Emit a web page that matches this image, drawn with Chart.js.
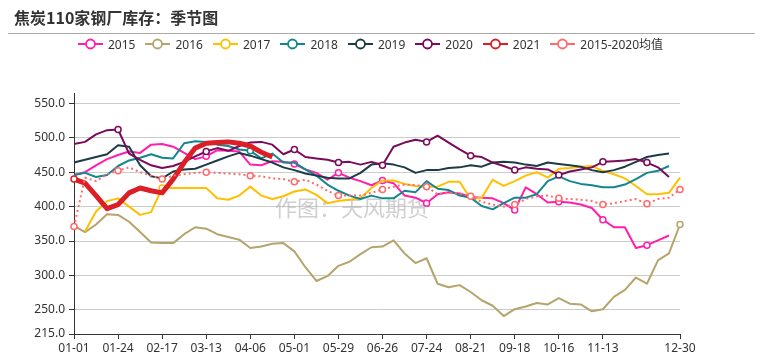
<!DOCTYPE html>
<html>
<head>
<meta charset="utf-8">
<script src="https://cdn.jsdelivr.net/npm/chart.js@4.4.0/dist/chart.umd.min.js"></script>
<style>
body { margin: 0; background: #fff; }
#wrap { position: relative; width: 768px; height: 362px; overflow: hidden; font-family: "Noto Sans", "Noto Sans CJK SC", sans-serif; }
#title { position: absolute; left: 14px; top: 6px; font-size: 16px; line-height: 22px; font-weight: bold; color: #333; font-family: "Noto Sans CJK SC", sans-serif; }
#rule { position: absolute; left: 8px; top: 33px; width: 747px; height: 1px; background: #aaa; }
#legend { position: absolute; left: 78px; top: 37px; height: 14px; display: flex; align-items: center; font-size: 12px; color: #333; white-space: nowrap; }
.item { display: flex; align-items: center; margin-right: 10px; }
.item svg { margin-right: 5px; }
#chart { position: absolute; left: 0; top: 0; }
</style>
</head>
<body>
<div id="wrap">
	<canvas id="chart" width="768" height="362"></canvas>
	<div id="title">焦炭110家钢厂库存：季节图</div>
	<div id="rule"></div>
	<div id="legend"></div>
</div>
<script>
// 날짜 축
var labels = ['01-01','01-07','01-13','01-18','01-24','01-30','02-05','02-11','02-17','02-23',
	'03-01','03-07','03-13','03-19','03-25','03-31','04-06','04-12','04-18','04-25',
	'05-01','05-08','05-15','05-22','05-29','06-05','06-12','06-19','06-26','07-03',
	'07-10','07-17','07-24','07-31','08-07','08-14','08-21','08-28','09-04','09-11',
	'09-18','09-25','10-02','10-09','10-16','10-23','10-30','11-06','11-13','11-20',
	'11-27','12-04','12-11','12-18','12-24','12-30'];
var xTickIdx = [0, 4, 8, 12, 16, 20, 24, 28, 32, 36, 40, 44, 48, 55];
var yTicks = [215, 250, 300, 350, 400, 450, 500, 550];

var s2015 = [446,450,460,469,475,480,478,490,491,487, 478,469,473,482,481,480,461,460,466,465,
	462,454,449,439,449,442,437,431,438,434, 416,413,405,418,421,419,414,413,412,405,
	395,428,418,406,407,406,403,398,381,370, 370,340,344,351,358,null];
var s2016 = [372,363,374,389,388,378,363,348,347,347, 360,370,368,360,356,352,340,342,346,347,
	335,312,292,299,314,320,331,341,342,351, 332,318,325,288,283,286,276,264,256,241,
	251,255,260,258,267,259,258,248,251,269, 279,297,288,322,332,374];
var s2017 = [null,364,393,408,412,400,388,392,427,427, 427,427,427,412,410,416,429,416,411,415,
	422,425,417,405,408,410,412,427,438,438, 433,430,429,429,436,436,411,413,439,430,
	437,445,450,442,455,456,458,459,452,447, 441,430,418,418,420,442];
var s2018 = [446,449,443,446,459,467,471,476,471,470, 492,495,494,490,488,483,481,470,477,464,
	464,454,445,432,423,416,411,416,412,412, 423,421,437,426,424,416,413,401,396,405,
	413,413,418,437,444,437,433,431,428,428, 432,440,449,452,459,null];
var s2019 = [464,468,472,476,489,487,460,444,441,451, 454,455,461,467,473,478,474,469,464,457,
	453,448,445,442,441,441,449,461,463,461, 457,449,453,453,456,457,460,458,464,465,
	464,461,459,464,462,460,458,453,450,453, 458,465,472,475,477,null];
var s2020 = [491,494,505,511,512,477,468,460,456,459, 465,473,480,485,481,488,493,494,490,476,
	483,472,470,468,464,465,461,465,460,487, 493,497,494,503,493,483,474,472,464,459,
	453,457,455,454,446,451,454,457,465,466, 467,469,464,457,443,null];
var s2021 = [440,434,416,397,403,420,427,423,420,440, 464,485,492,493,494,492,488,479,472];
var sAvg = [371,442,437,447,452,457,450,445,440,445, 447,449,450,449,448,447,445,444,441,440,
	436,439,432,423,416,416,416,420,425,429, 432,431,429,418,420,419,415,407,403,400,
	403,411,415,416,412,411,410,408,403,405, 408,411,404,411,413,425];

var names = ['2015','2016','2017','2018','2019','2020','2021','2015-2020均值'];

var series = [
	{ data: s2015, color: '#FF1FAA', marks: [12,20,24,28,32,40,44,48,52] },
	{ data: s2016, color: '#B5A46B', marks: [55] },
	{ data: s2017, color: '#FFC000', marks: [8] },
	{ data: s2018, color: '#13868E', marks: [16] },
	{ data: s2019, color: '#1C3B47', marks: [] },
	{ data: s2020, color: '#7A0B5B', marks: [4,12,20,24,28,32,36,40,44,48,52] },
	{ data: s2021, color: '#DC1F26', marks: [0], width: 5 },
	{ data: sAvg, color: '#FF6B6B', marks: [0,4,8,12,16,20,24,28,32,36,40,44,48,52,55], dash: [2, 3] }
];

var datasets = series.map(function (s, i) {
	return {
		label: names[i],
		data: s.data,
		borderColor: s.color,
		borderWidth: s.width || 2,
		borderDash: s.dash || [],
		borderJoinStyle: 'round',
		tension: 0,
		spanGaps: false,
		order: 10 - i,
		pointBackgroundColor: '#fff',
		pointBorderColor: s.color,
		pointBorderWidth: 1.5,
		pointRadius: function (ctx) {
			return s.marks.indexOf(ctx.dataIndex) >= 0 ? 3 : 0;
		},
		pointHoverRadius: 0
	};
});

// 범례
var legend = document.getElementById('legend');
series.forEach(function (s, i) {
	var item = document.createElement('div');
	item.className = 'item';
	item.innerHTML = '<svg width="25" height="14"><line x1="0" y1="7" x2="25" y2="7" stroke="' + s.color +
		'" stroke-width="2"/><circle cx="12.5" cy="7" r="4.5" fill="#fff" stroke="' + s.color +
		'" stroke-width="1.8"/></svg><span>' + names[i] + '</span>';
	legend.appendChild(item);
});

var watermark = {
	id: 'watermark',
	beforeDatasetsDraw: function (chart) {
		var c = chart.ctx;
		c.save();
		c.font = '22px "Noto Sans CJK SC"';
		c.fillStyle = 'rgba(170,170,170,0.55)';
		c.textAlign = 'center';
		c.textBaseline = 'middle';
		c.fillText('作图：天风期货', 352, 208);
		c.restore();
	}
};

new Chart(document.getElementById('chart'), {
	type: 'line',
	data: { labels: labels, datasets: datasets },
	plugins: [watermark],
	options: {
		responsive: false,
		animation: false,
		layout: { padding: { top: 93, right: 88, left: 0, bottom: 0 } },
		plugins: { legend: { display: false }, tooltip: { enabled: false } },
		scales: {
			x: {
				type: 'category',
				offset: false,
				afterBuildTicks: function (s) {
					s.ticks = xTickIdx.map(function (i) { return { value: i }; });
				},
				afterFit: function (s) { s.height = 28; },
				grid: { drawOnChartArea: false, drawTicks: true, tickLength: 5, tickColor: '#333' },
				border: { color: '#333', width: 1 },
				ticks: { autoSkip: false, maxRotation: 0, padding: 2, color: '#333', font: { size: 12, family: '"Noto Sans"' } }
			},
			y: {
				min: 215,
				max: 565,
				afterBuildTicks: function (s) {
					s.ticks = yTicks.map(function (v) { return { value: v }; });
				},
				afterFit: function (s) { s.width = 74; },
				grid: { color: '#ccc', tickLength: 5, tickColor: '#333' },
				border: { color: '#333', width: 1 },
				ticks: {
					padding: 4, color: '#333', font: { size: 12, family: '"Noto Sans"' },
					callback: function (v) { return Number(v).toFixed(1); }
				}
			}
		}
	}
});
</script>
</body>
</html>
